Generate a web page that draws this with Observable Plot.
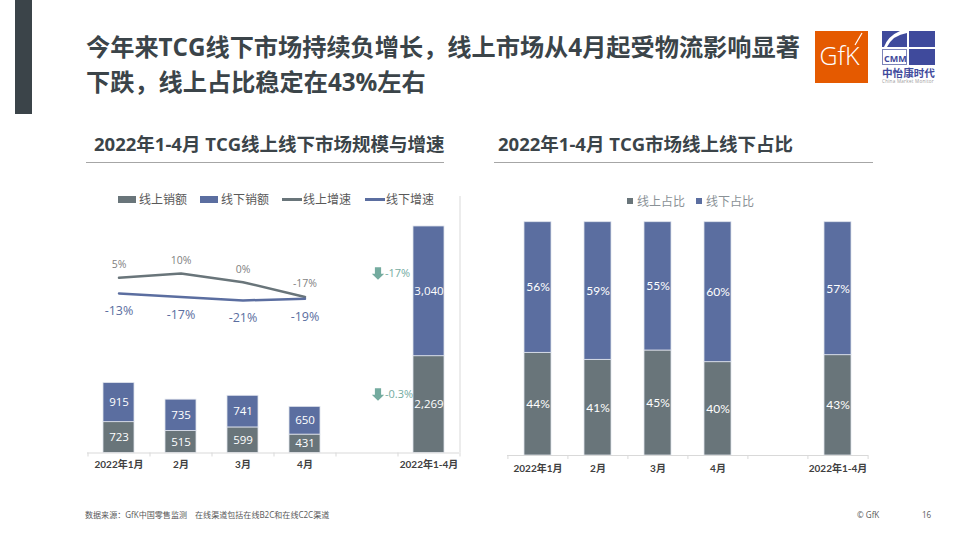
<!DOCTYPE html>
<html lang="zh">
<head>
<meta charset="utf-8">
<script src="https://cdn.jsdelivr.net/npm/d3@7"></script>
<script src="https://cdn.jsdelivr.net/npm/@observablehq/plot@0.6"></script>
<style>
html,body{margin:0;padding:0;background:#fff;}
#page{position:relative;width:960px;height:540px;overflow:hidden;font-family:"Open Sans","Noto Sans CJK SC",sans-serif;color:#3b4449;}
.abs{position:absolute;white-space:nowrap;}
.title{left:86px;font-size:24.2px;font-weight:700;line-height:35px;height:35px;}
.sub{font-size:18.5px;font-weight:700;line-height:24px;top:132px;}
.rule{height:1px;background:#a6a6a6;top:162px;}
.foot{font-size:8.05px;color:#595959;top:509px;line-height:12px;}
.leg{font-size:12px;line-height:16px;}
.plot{position:absolute;}
</style>
</head>
<body>
<div id="page">
  <div class="abs" style="left:15px;top:0;width:17px;height:114px;background:#3b4449"></div>
  <div class="abs title" style="top:29px">今年来TCG线下市场持续负增长，线上市场从4月起受物流影响显著</div>
  <div class="abs title" style="top:64px">下跌，线上占比稳定在43%左右</div>

  <svg class="abs" style="left:815px;top:31px" width="54" height="53" viewBox="0 0 54 53">
    <rect width="53" height="52" fill="#e55a00"/>
    <text x="4.5" y="34" font-family="Open Sans" font-size="25" font-weight="300" fill="#fff">GfK</text>
    <path d="M40 14 L47 2" stroke="#fff" stroke-width="1.2"/>
  </svg>
  <svg class="abs" style="left:881px;top:30px" width="56" height="54" viewBox="0 0 56 54">
    <rect x="1" y="1" width="25" height="16" fill="#3f4a9c"/>
    <path d="M6 17 Q12 5 26 3 L26 1 L19 1 Q7 6 3 17 Z" fill="#fff"/>
    <rect x="28" y="1" width="26" height="16" fill="#3f4a9c"/>
    <rect x="28" y="19" width="26" height="16" fill="#3f4a9c"/>
    <rect x="1.5" y="19.5" width="24" height="15" fill="#fff" stroke="#7d84b8"/>
    <text x="3" y="32" font-family="Open Sans" font-size="9" font-weight="700" fill="#3f4a9c">CMM</text>
    <text x="1" y="46.5" font-family="Noto Sans CJK SC" font-size="10.6" font-weight="700" fill="#3f4a9c">中怡康时代</text>
    <text x="1" y="53" font-family="Open Sans" font-size="4.6" fill="#9a9a9a" letter-spacing=".25">China Market Monitor</text>
  </svg>

  <div class="abs sub" style="left:94px">2022年1-4月 TCG线上线下市场规模与增速</div>
  <div class="abs rule" style="left:86px;width:358px"></div>
  <div class="abs sub" style="left:498px">2022年1-4月 TCG市场线上线下占比</div>
  <div class="abs rule" style="left:494px;width:379px"></div>

  <div id="left" class="plot" style="left:80px;top:190px"></div>
  <div id="right" class="plot" style="left:500px;top:190px"></div>

  <div id="legL"></div>
  <div id="legR"></div>

  <div class="abs foot" style="left:85px">数据来源：GfK中国零售监测　在线渠道包括在线B2C和在线C2C渠道</div>
  <div class="abs foot" style="left:857px">© GfK</div>
  <div class="abs foot" style="left:922px">16</div>
</div>
<script>
// ---------- data ----------
const categories = ["2022年1月", "2月", "3月", "4月", " ", "2022年1-4月"];
const salesCategories = ["2022年1月", "2月", "3月", "4月", "2022年1-4月"];
const monthCategories = ["2022年1月", "2月", "3月", "4月"];
const onlineSales = [723, 515, 599, 431, 2269];
const offlineSales = [915, 735, 741, 650, 3040];
const onlineGrowth = [5, 10, 0, -17];
const offlineGrowth = [-13, -17, -21, -19];
const onlineShare = [44, 41, 45, 40, 43];
const offlineShare = [56, 59, 55, 60, 57];
const totalChangeLabels = ["-17%", "-0.3%"];
const legendSales = ["线上销额", "线下销额", "线上增速", "线下增速"];
const legendShare = ["线上占比", "线下占比"];

// ---------- styles ----------
const ONLINE = "#69757a", OFFLINE = "#5b6ea0", GREEN = "#74ab9f", EDGE = "#dfe3ec", AXIS = "#d9d9d9";
const latin = 'Lato,"Noto Sans CJK SC",sans-serif';
const openLatin = '"Open Sans","Noto Sans CJK SC",sans-serif';

// Growth rates share the plot with the sales bars on a secondary axis
const growthToSales = g => 4004 + 20.4 * g;

const stackRows = (a, b, nameA, nameB) => [
  ...salesCategories.map((c, i) => ({cat: c, series: nameA, value: a[i]})),
  ...salesCategories.map((c, i) => ({cat: c, series: nameB, value: b[i]}))
];
const salesRows = stackRows(onlineSales, offlineSales, "线上销额", "线下销额");
const shareRows = stackRows(onlineShare, offlineShare, "线上占比", "线下占比");
const color = s => s.startsWith("线上") ? ONLINE : OFFLINE;
const onlineLine = monthCategories.map((c, i) => ({cat: c, g: onlineGrowth[i]}));
const offlineLine = monthCategories.map((c, i) => ({cat: c, g: offlineGrowth[i]}));

// Block arrow used next to the total column
const downArrow = {draw(ctx, size) {
  const r = Math.sqrt(size) / 2;
  ctx.moveTo(-r * .5, -r); ctx.lineTo(r * .5, -r); ctx.lineTo(r * .5, r * .05);
  ctx.lineTo(r, r * .05); ctx.lineTo(0, r); ctx.lineTo(-r, r * .05);
  ctx.lineTo(-r * .5, r * .05); ctx.closePath();
}};
const arrowX = " ";
const arrowAt = [4208, 1371];
const changes = totalChangeLabels.map((t, i) => ({label: t, y: arrowAt[i]}));

const axisBits = (step) => [
  Plot.axisX({anchor: "bottom", tickSize: 4, tickFormat: null, dx: -step, stroke: AXIS}),
  Plot.axisX({anchor: "bottom", ticks: [categories[categories.length - 1]], tickSize: 4, tickFormat: null, dx: step, stroke: AXIS})
];

const left = Plot.plot({
  width: 390, height: 285,
  marginLeft: 7, marginRight: 11, marginTop: 6, marginBottom: 22.5,
  style: {fontFamily: openLatin, background: "transparent", overflow: "visible"},
  x: {type: "band", domain: categories, paddingInner: 0.5, paddingOuter: 0.25, label: null},
  y: {domain: [0, 6012], axis: null},
  marks: [
    Plot.barY(salesRows, Plot.stackY({x: "cat", y: "value", fill: d => color(d.series), stroke: EDGE, strokeWidth: 0.8, order: null})),
    Plot.text(salesRows, Plot.stackY({x: "cat", y: "value", order: null, text: d => d3.format(",")(d.value), fill: "#fff", fontSize: 11.5, fontWeight: 500})),
    Plot.ruleY([0], {stroke: AXIS}),
    ...axisBits(31),
    Plot.axisX({anchor: "bottom", tickSize: 0, tickPadding: 8, fontSize: 10, fontWeight: 700, fill: "#404040", fontFamily: latin}),
    Plot.ruleX([categories[5]], {dx: 31, y1: 0, y2: 6012, stroke: AXIS}),
    Plot.lineY(onlineLine, {x: "cat", y: d => growthToSales(d.g), stroke: ONLINE, strokeWidth: 2.5}),
    Plot.lineY(offlineLine, {x: "cat", y: d => growthToSales(d.g), stroke: OFFLINE, strokeWidth: 2.5}),
    Plot.text(onlineLine, {x: "cat", y: d => growthToSales(d.g), text: d => d.g + "%", dy: -13, fill: "#7f7f7f", fontSize: 10.5}),
    Plot.text(offlineLine, {x: "cat", y: d => growthToSales(d.g), text: d => d.g + "%", dy: 18, fill: OFFLINE, fontSize: 12.5}),
    Plot.dot(changes, {x: () => arrowX, y: "y", dx: 11, symbol: downArrow, r: 7, fill: GREEN, stroke: "none"}),
    Plot.text(changes, {x: () => arrowX, y: "y", text: "label", dx: 18, textAnchor: "start", fill: GREEN, fontSize: 11})
  ]
});
document.getElementById("left").append(left);

const right = Plot.plot({
  width: 380, height: 285,
  marginLeft: 7, marginRight: 12, marginTop: 31.7, marginBottom: 20,
  style: {fontFamily: openLatin, background: "transparent", overflow: "visible"},
  x: {type: "band", domain: categories, paddingInner: 0.545, paddingOuter: 0.2725, label: null},
  y: {domain: [0, 100], axis: null},
  marks: [
    Plot.barY(shareRows, Plot.stackY({x: "cat", y: "value", fill: d => color(d.series), stroke: EDGE, strokeWidth: 0.8, order: null})),
    Plot.text(shareRows, Plot.stackY({x: "cat", y: "value", order: null, text: d => d.value + "%", fill: "#fff", fontSize: 12, fontFamily: latin})),
    Plot.ruleY([0], {stroke: AXIS}),
    ...axisBits(30.1),
    Plot.axisX({anchor: "bottom", tickSize: 0, tickPadding: 9, fontSize: 10, fontWeight: 700, fill: "#404040", fontFamily: latin})
  ]
});
document.getElementById("right").append(right);

// ---------- legends (HTML, above the SVGs) ----------
const page = document.getElementById("page");
function addText(text, x, y, style) {
  const d = document.createElement("div");
  d.className = "abs leg"; d.textContent = text;
  d.style.left = x + "px"; d.style.top = y + "px"; d.style.fontFamily = latin;
  Object.assign(d.style, style);
  page.append(d);
}
function addSwatch(x, y, w, h, c) {
  const d = document.createElement("div");
  d.className = "abs";
  Object.assign(d.style, {left: x + "px", top: y + "px", width: w + "px", height: h + "px", background: c});
  page.append(d);
}
const legendLeftX = [118, 200, 282, 365];
legendSales.forEach((t, i) => {
  const c = i % 2 ? OFFLINE : ONLINE;
  const isLine = i > 1;
  addSwatch(legendLeftX[i], isLine ? 198 : 196, isLine ? 20 : 18, isLine ? 2.5 : 7, c);
  addText(t, legendLeftX[i] + 21, 191.5, {color: "#595959", fontSize: "12px"});
});
const legendRightX = [627, 696];
legendShare.forEach((t, i) => {
  addSwatch(legendRightX[i], 198, 6, 6, i ? OFFLINE : ONLINE);
  addText(t, legendRightX[i] + 10, 193.5, {color: "#8a9196", fontSize: "12px"});
});
</script>
</body>
</html>
